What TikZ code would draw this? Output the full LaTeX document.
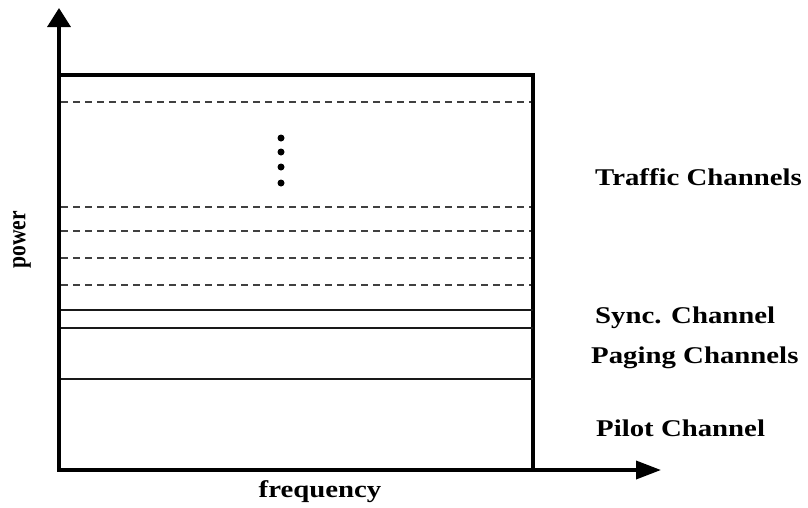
\documentclass[tikz,border=0pt]{standalone}
\usepackage{fontspec}
\setmainfont{Liberation Serif}
\newfontfamily\labfont[FakeStretch=1.2]{Liberation Serif}
\usetikzlibrary{arrows.meta}
\begin{document}
\begin{tikzpicture}[x=1pt,y=-1pt,
  lab/.style={font=\labfont\bfseries\fontsize{24}{28}\selectfont,anchor=west,inner sep=0pt},
  solidline/.style={line width=2.6pt,black!90},
  dashline/.style={line width=1.7pt,black!75,dash pattern=on 7pt off 5pt},
  chdot/.style={circle,fill=black,inner sep=0pt,minimum size=7pt}]
\useasboundingbox (0,0) rectangle (808,507);
\coordinate (O) at (59,470);
\coordinate (ytip) at (59,8);
\coordinate (xtip) at (661,470);
\coordinate (TL) at (59,75);
\coordinate (BR) at (533,470);
% box
\draw[line width=3.6pt] (TL) rectangle (BR);
% dashed traffic lines
\foreach \yy in {102,207,231,258,285}
  \draw[dashline] (61,\yy) -- (531,\yy);
% solid lines
\foreach \yy in {310,328,379}
  \draw[solidline] (59,\yy) -- (533,\yy);
% axes
\draw[line width=3.6pt,-{Triangle[length=19pt,width=23pt]}] (O) -- (ytip);
\draw[line width=3.6pt,-{Triangle[length=25pt,width=18pt]}] (O) -- (xtip);
% dots
\node[chdot] (d1) at (281,138) {};
\node[chdot] (d2) at (281,152) {};
\node[chdot] (d3) at (281,167) {};
\node[chdot] (d4) at (281,183) {};
% labels
\node[lab] (traffic) at (595,177) {Traffic Channels};
\node[lab] (sync) at (595,318) {Sync. Channel};
\node[lab] (paging) at (591,358) {Paging Channels};
\node[lab] (pilot) at (596,428) {Pilot Channel};
\node[lab,anchor=center] (freq) at (320,492) {frequency};
\node[font=\bfseries\fontsize{26}{28}\selectfont,rotate=90,inner sep=0pt] (power) at (22,240) {\scalebox{0.83}[1]{power}};
\end{tikzpicture}
\end{document}
